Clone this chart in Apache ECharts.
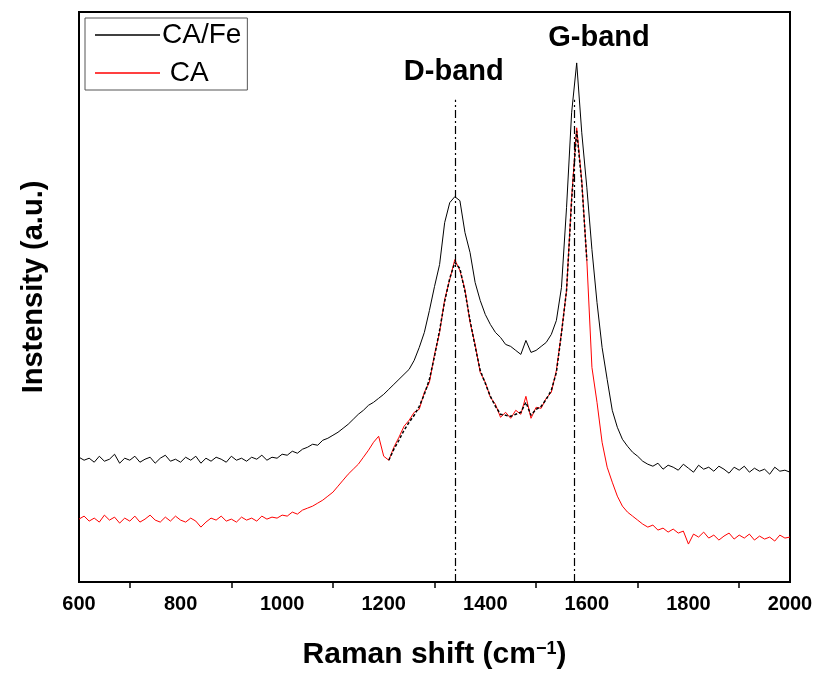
<!DOCTYPE html>
<html><head><meta charset="utf-8">
<script src="https://cdn.jsdelivr.net/npm/echarts@6/dist/echarts.min.js"></script>
<style>html,body{margin:0;padding:0;background:#fff}#c{width:818px;height:675px}</style>
</head><body><div id="c"></div>
<script>
const ramanShift = [600,610,620,630,640,650,660,670,680,690,700,710,720,730,740,750,760,770,780,790,800,810,820,830,840,850,860,870,880,890,900,910,920,930,940,950,960,970,980,990,1000,1010,1020,1030,1040,1050,1060,1070,1080,1090,1100,1110,1120,1130,1140,1150,1160,1170,1180,1190,1200,1210,1220,1230,1240,1250,1260,1270,1280,1290,1300,1310,1320,1330,1340,1350,1360,1370,1380,1390,1400,1410,1420,1430,1440,1450,1460,1470,1480,1490,1500,1510,1520,1530,1540,1550,1560,1570,1580,1590,1600,1610,1620,1630,1640,1650,1660,1670,1680,1690,1700,1710,1720,1730,1740,1750,1760,1770,1780,1790,1800,1810,1820,1830,1840,1850,1860,1870,1880,1890,1900,1910,1920,1930,1940,1950,1960,1970,1980,1990,2000];
const caFe = [125,122,124,120,126,121,123,128,119,124,
122,126,120,123,125,119,124,127,121,123,
120,125,122,126,119,124,121,125,123,120,
126,122,124,121,125,123,127,122,125,124,
128,127,131,129,133,135,138,137,142,144,
147,150,154,158,163,168,172,177,180,184,
188,193,198,203,208,213,222,235,250,272,
296,318,360,380,386,382,350,330,300,282,
268,258,250,245,238,236,232,228,242,230,
232,236,240,248,262,295,375,470,520,450,
395,333,280,235,203,172,155,143,136,130,
126,121,118,116,119,113,117,115,112,118,
114,110,117,113,115,111,116,113,109,115,
112,116,110,114,111,113,108,115,111,112,
110];
const ca = [63,66,61,64,60,67,62,65,59,64,
61,66,60,63,67,62,60,65,61,66,
62,60,64,61,55,60,64,62,66,61,
63,60,65,62,64,61,66,63,65,64,
67,66,70,68,72,74,76,79,82,86,
90,96,102,108,113,118,125,132,140,146,
126,122,135,145,156,162,170,173,190,200,
228,250,283,303,323,312,293,260,238,210,
200,185,178,165,170,164,172,168,186,164,
175,174,184,190,212,250,292,385,455,402,
322,215,180,140,115,100,86,76,70,66,
62,58,55,57,52,54,50,53,49,51,
38,48,45,50,44,47,42,46,49,43,
47,44,48,42,46,43,45,41,47,44,
45];
const fitShift = [1210,1220,1230,1240,1250,1260,1270,1280,1290,1300,1310,1320,1330,1340,1350,1360,1370,1380,1390,1400,1410,1420,1430,1440,1450,1460,1470,1480,1490,1500,1510,1520,1530,1540,1550,1560,1570,1580,1590,1600];
const caFit = [122,133,142,152,160,167,176,188,203,226,252,281,304,320,314,291,262,236,212,199,186,176,168,167,166,168,170,180,167,173,176,183,192,210,249,292,382,452,400,322];
const bandPositions = [1340, 1575];
const bandNames = ['D-band', 'G-band'];
const bandLabelAt = [[1338, 496], [1624, 530]];
const bandLineTop = 483;
const xTicks = [600, 2000, 200];

const FONT = 'Arial, "Liberation Sans", Helvetica, sans-serif';
const pairs = (xs, ys) => xs.map((x, i) => [x, ys[i]]);

const chart = echarts.init(document.getElementById('c'), null, {renderer: 'canvas'});
chart.setOption({
  animation: false,
  backgroundColor: '#fff',
  grid: {left: 79, right: 28, top: 12, bottom: 92, show: true, borderColor: '#000', borderWidth: 2, containLabel: false},
  legend: {
    left: 85, top: 18, orient: 'vertical', padding: [3, 6, 3, 10], itemGap: 10,
    borderColor: '#555', borderWidth: 1, itemWidth: 65, itemHeight: 1.5,
    data: [{name: 'CA/Fe', icon: 'rect'}, {name: 'CA', icon: 'rect'}],
    formatter: n => n === 'CA' ? ' ' + n : n,
    textStyle: {fontFamily: FONT, fontSize: 28, color: '#000', padding: [0, 0, 0, -3]}
  },
  xAxis: {
    type: 'value', min: xTicks[0], max: xTicks[1], interval: xTicks[2],
    name: 'Raman shift (cm{sup|−1})', nameLocation: 'middle', nameGap: 58,
    nameTextStyle: {fontFamily: FONT, fontSize: 30, fontWeight: 'bold', color: '#000',
      rich: {sup: {fontFamily: FONT, fontSize: 18, fontWeight: 'bold', color: '#000', verticalAlign: 'top', padding: [0, 0, 12, 0]}}},
    axisLine: {lineStyle: {color: '#000', width: 2}},
    axisTick: {show: false},
    minorTick: {show: true, splitNumber: 2, length: 6, lineStyle: {color: '#000', width: 1.5}},
    splitLine: {show: false},
    axisLabel: {fontFamily: FONT, fontSize: 20, fontWeight: 'bold', color: '#000', margin: 12, formatter: v => String(v)}
  },
  yAxis: {
    type: 'value', min: 0, max: 571,
    name: 'Instensity (a.u.)', nameLocation: 'middle', nameGap: 31,
    nameTextStyle: {fontFamily: FONT, fontSize: 29, fontWeight: 'bold', color: '#000', padding: [0, 0, 0, 20]},
    axisLine: {show: true, lineStyle: {color: '#000', width: 2}},
    axisTick: {show: false}, axisLabel: {show: false}, splitLine: {show: false}
  },
  series: [
    {name: 'CA/Fe', type: 'line', data: pairs(ramanShift, caFe), showSymbol: false, color: '#000',
     lineStyle: {color: '#000', width: 1}, z: 3},
    {name: 'CA', type: 'line', data: pairs(ramanShift, ca), showSymbol: false, color: '#ff0000',
     lineStyle: {color: '#ff0000', width: 1}, z: 2},
    {name: 'fit', type: 'line', data: pairs(fitShift, caFit), showSymbol: false,
     lineStyle: {color: '#000', width: 1.5, type: [3, 2]}, z: 4,
     markLine: {
       silent: true, symbol: 'none',
       lineStyle: {color: '#000', width: 1.2, type: [8, 3, 2, 3]},
       label: {show: false},
       data: bandPositions.map(p => [{coord: [p, 0]}, {coord: [p, bandLineTop]}])
     }},
    {name: 'labels', type: 'scatter', symbolSize: 1, silent: true, itemStyle: {color: 'rgba(0,0,0,0)'},
     data: bandLabelAt,
     label: {show: true, position: 'top', distance: 0, formatter: p => bandNames[p.dataIndex],
             fontFamily: FONT, fontSize: 29, fontWeight: 'bold', color: '#000', opacity: 1}}
  ]
});
</script></body></html>
